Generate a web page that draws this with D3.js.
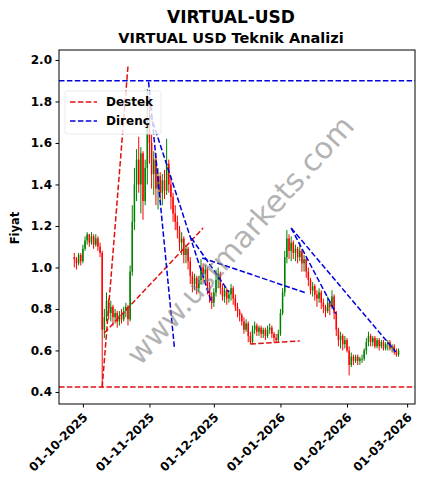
<!DOCTYPE html>
<html lang="en">
<head>
<meta charset="UTF-8">
<script src="https://d3js.org/d3.v7.min.js"></script>
<style>
    body { margin: 0; background: #fff; }
    text { font-family: "DejaVu Sans", sans-serif; font-weight: bold; }
    .axis path, .axis line { stroke: #000; }
</style>
</head>
<body>
<svg width="427" height="489"></svg>
<script>
    // daily candles, first day 27-09-2025, open = previous close
    var firstDay = "2025-09-27";
    var firstOpen = 1.05;
    var closes = [
        1.04, 1.02, 1.06, 1.03, 1.09, 1.13, 1.16, 1.12, 1.15, 1.11,
        1.14, 1.10, 1.07, 0.70, 0.76, 0.84, 0.78, 0.81, 0.76, 0.78,
        0.74, 0.77, 0.75, 0.79, 0.81, 0.75, 0.98, 1.22, 1.40, 1.52,
        1.40, 1.55, 1.32, 1.48, 1.72, 1.60, 1.45, 1.52, 1.38, 1.44,
        1.36, 1.42, 1.37, 1.50, 1.40, 1.34, 1.26, 1.22, 1.18, 1.12,
        1.14, 1.06, 1.09, 1.03, 0.96, 0.92, 0.95, 0.90, 0.94, 1.00,
        0.97, 0.99, 0.91, 0.86, 0.83, 0.88, 0.94, 0.97, 0.90, 0.86,
        0.89, 0.85, 0.87, 0.90, 0.85, 0.81, 0.79, 0.77, 0.74, 0.70,
        0.73, 0.67, 0.64, 0.70, 0.72, 0.69, 0.71, 0.68, 0.70, 0.67,
        0.70, 0.71, 0.68, 0.66, 0.65, 0.68, 0.78, 0.88, 1.05, 1.14,
        1.08, 1.12, 1.07, 1.09, 1.05, 1.08, 1.02, 1.04, 0.98, 0.94,
        0.89, 0.91, 0.87, 0.85, 0.88, 0.83, 0.81, 0.79, 0.83, 0.81,
        0.86, 0.78, 0.70, 0.65, 0.67, 0.63, 0.65, 0.60, 0.53, 0.57,
        0.55, 0.57, 0.55, 0.56, 0.56, 0.60, 0.64, 0.67, 0.64, 0.66,
        0.62, 0.65, 0.62, 0.64, 0.61, 0.63, 0.64, 0.61, 0.62, 0.59,
        0.58, 0.60
    ];
    var highs = [
        1.07, 1.05, 1.07, 1.07, 1.11, 1.15, 1.17, 1.16, 1.17, 1.16,
        1.16, 1.15, 1.12, 1.08, 0.80, 0.88, 0.85, 0.84, 0.82, 0.80,
        0.79, 0.79, 0.80, 0.81, 0.83, 0.82, 1.01, 1.30, 1.48, 1.57,
        1.63, 1.58, 1.56, 1.52, 1.86, 1.82, 1.64, 1.56, 1.55, 1.48,
        1.46, 1.45, 1.47, 1.62, 1.52, 1.44, 1.36, 1.30, 1.25, 1.20,
        1.17, 1.15, 1.11, 1.10, 1.05, 0.98, 0.97, 0.96, 0.96, 1.04,
        1.02, 1.01, 1.00, 0.93, 0.88, 0.90, 0.99, 1.00, 0.98, 0.92,
        0.91, 0.90, 0.89, 0.92, 0.91, 0.87, 0.83, 0.80, 0.78, 0.76,
        0.75, 0.74, 0.69, 0.72, 0.74, 0.73, 0.72, 0.72, 0.71, 0.71,
        0.72, 0.73, 0.72, 0.69, 0.68, 0.70, 0.80, 0.90, 1.08, 1.18,
        1.16, 1.15, 1.13, 1.11, 1.10, 1.12, 1.09, 1.06, 1.05, 1.00,
        0.95, 0.93, 0.92, 0.89, 0.90, 0.89, 0.85, 0.82, 0.86, 0.84,
        0.89, 0.87, 0.79, 0.71, 0.69, 0.68, 0.67, 0.66, 0.62, 0.59,
        0.58, 0.58, 0.58, 0.57, 0.58, 0.61, 0.66, 0.69, 0.68, 0.67,
        0.67, 0.66, 0.66, 0.65, 0.65, 0.64, 0.65, 0.65, 0.63, 0.63,
        0.61, 0.61
    ];
    var lows = [
        1.00, 0.99, 1.01, 1.01, 1.02, 1.08, 1.11, 1.10, 1.11, 1.09,
        1.10, 1.08, 1.05, 0.42, 0.66, 0.74, 0.75, 0.74, 0.72, 0.73,
        0.71, 0.72, 0.73, 0.74, 0.76, 0.72, 0.74, 0.96, 1.18, 1.32,
        1.36, 1.26, 1.23, 1.30, 1.40, 1.50, 1.38, 1.35, 1.30, 1.28,
        1.32, 1.30, 1.33, 1.35, 1.36, 1.28, 1.22, 1.18, 1.14, 1.08,
        1.06, 1.02, 1.02, 0.99, 0.92, 0.88, 0.89, 0.87, 0.88, 0.92,
        0.93, 0.92, 0.87, 0.83, 0.80, 0.81, 0.86, 0.90, 0.87, 0.84,
        0.83, 0.82, 0.83, 0.84, 0.82, 0.79, 0.76, 0.74, 0.72, 0.68,
        0.69, 0.64, 0.63, 0.63, 0.68, 0.67, 0.67, 0.66, 0.66, 0.65,
        0.66, 0.68, 0.66, 0.64, 0.64, 0.64, 0.67, 0.77, 0.86, 1.02,
        1.04, 1.03, 1.04, 1.03, 1.02, 1.03, 0.98, 0.98, 0.95, 0.91,
        0.87, 0.86, 0.84, 0.81, 0.83, 0.80, 0.78, 0.76, 0.78, 0.77,
        0.80, 0.75, 0.67, 0.62, 0.61, 0.60, 0.61, 0.59, 0.48, 0.52,
        0.53, 0.54, 0.53, 0.53, 0.54, 0.55, 0.58, 0.62, 0.62, 0.62,
        0.61, 0.61, 0.60, 0.61, 0.60, 0.60, 0.60, 0.60, 0.59, 0.58,
        0.57, 0.57
    ];

    var resistanceLevel = 1.90;
    var supportLevel = 0.424;

    // trend lines: [date, price] -> [date, price]
    var supportLines = [
        [["2025-10-10", 0.424], ["2025-10-22", 1.97]],
        [["2025-10-11", 0.684], ["2025-11-26", 1.19]],
        [["2025-12-18", 0.631], ["2026-01-10", 0.646]]
    ];
    var resistanceLines = [
        [["2025-10-31T14:00", 1.894], ["2025-11-12T14:00", 0.617]],
        [["2025-11-01T12:00", 1.735], ["2025-11-30", 0.829]],
        [["2025-11-20T12:00", 1.142], ["2025-12-08", 0.882]],
        [["2025-11-25T14:00", 1.046], ["2026-01-13", 0.877]],
        [["2026-01-06", 1.19], ["2026-02-23T18:00", 0.593]],
        [["2026-01-06", 1.19], ["2026-01-27", 0.776]]
    ];

    var yTicks = [0.4, 0.6, 0.8, 1.0, 1.2, 1.4, 1.6, 1.8, 2.0];
    var xTicks = ["2025-10-01", "2025-11-01", "2025-12-01", "2026-01-01", "2026-02-01", "2026-03-01"];
    var legendItems = ["Destek", "Direnç"];

    var parse = d3.isoParse;
    var day0 = parse(firstDay);
    var candles = closes.map(function(c, i) {
        return {
            date: d3.timeDay.offset(day0, i),
            open: i === 0 ? firstOpen : closes[i - 1],
            close: c, high: highs[i], low: lows[i]
        };
    });

    var svg = d3.select("svg");
    var plotL = 59, plotR = 415, plotT = 50, plotB = 404;

    var x = d3.scaleTime()
        .domain([parse("2025-09-19T21:00"), parse("2026-03-04T16:00")])
        .range([plotL, plotR]);
    var y = d3.scaleLinear().domain([0.342, 2.048]).range([plotB, plotT]);

    svg.append("defs").append("clipPath").attr("id", "plot")
        .append("rect").attr("x", plotL).attr("y", plotT)
        .attr("width", plotR - plotL).attr("height", plotB - plotT);

    var plot = svg.append("g").attr("clip-path", "url(#plot)");

    // horizontal levels
    plot.append("line")
        .attr("x1", plotL).attr("x2", plotR)
        .attr("y1", y(resistanceLevel)).attr("y2", y(resistanceLevel))
        .attr("stroke", "#0000dd").attr("stroke-width", 1.5).attr("stroke-dasharray", "5.5,2.4");
    plot.append("line")
        .attr("x1", plotL).attr("x2", plotR)
        .attr("y1", y(supportLevel)).attr("y2", y(supportLevel))
        .attr("stroke", "#e01010").attr("stroke-width", 1.5).attr("stroke-dasharray", "5.5,2.4");

    // candles
    var dayW = x(parse("2025-10-02")) - x(parse("2025-10-01"));
    var cg = plot.append("g").selectAll("g").data(candles).enter().append("g");
    cg.append("line")
        .attr("x1", function(d) { return x(d.date); })
        .attr("x2", function(d) { return x(d.date); })
        .attr("y1", function(d) { return y(d.high); })
        .attr("y2", function(d) { return y(d.low); })
        .attr("stroke", function(d) { return d.close >= d.open ? "green" : "red"; })
        .attr("stroke-width", 1);
    cg.append("rect")
        .attr("x", function(d) { return x(d.date) - dayW * 0.35; })
        .attr("width", dayW * 0.7)
        .attr("y", function(d) { return y(Math.max(d.open, d.close)); })
        .attr("height", function(d) { return Math.max(0.8, Math.abs(y(d.open) - y(d.close))); })
        .attr("fill", function(d) { return d.close >= d.open ? "green" : "red"; });

    // trend lines
    function drawLines(lines, color) {
        plot.append("g").selectAll("line").data(lines).enter().append("line")
            .attr("x1", function(d) { return x(parse(d[0][0])); })
            .attr("y1", function(d) { return y(d[0][1]); })
            .attr("x2", function(d) { return x(parse(d[1][0])); })
            .attr("y2", function(d) { return y(d[1][1]); })
            .attr("stroke", color).attr("stroke-width", 1.5)
            .attr("stroke-dasharray", "5.5,2.4");
    }
    drawLines(supportLines, "#e01010");
    drawLines(resistanceLines, "#0000dd");

    // watermark
    svg.append("text")
        .attr("transform", "translate(240,240) rotate(-48)")
        .attr("text-anchor", "middle").attr("dy", "0.35em")
        .style("font-weight", "normal").style("font-size", "30px")
        .attr("fill", "#808080").attr("fill-opacity", 0.6)
        .text("www.ustmarkets.com");

    // frame
    svg.append("rect").attr("x", plotL).attr("y", plotT)
        .attr("width", plotR - plotL).attr("height", plotB - plotT)
        .attr("fill", "none").attr("stroke", "#000").attr("stroke-width", 1);

    // axes
    var yAxis = svg.append("g").attr("class", "axis")
        .attr("transform", "translate(" + plotL + ",0)")
        .call(d3.axisLeft(y).tickValues(yTicks).tickFormat(d3.format(".1f")).tickSize(3.5).tickPadding(3.5));
    yAxis.select(".domain").remove();
    yAxis.selectAll("text").style("font-size", "12px").attr("fill", "#000");

    var xAxis = svg.append("g").attr("class", "axis")
        .attr("transform", "translate(0," + plotB + ")")
        .call(d3.axisBottom(x).tickValues(xTicks.map(parse)).tickFormat(d3.timeFormat("%d-%m-%Y")).tickSize(3.5));
    xAxis.select(".domain").remove();
    xAxis.selectAll("text")
        .style("font-size", "12px").attr("fill", "#000")
        .attr("text-anchor", "end")
        .attr("dy", null).attr("y", null)
        .attr("transform", "translate(5,14) rotate(-45)");

    // titles
    svg.append("text").attr("x", 231).attr("y", 23).attr("text-anchor", "middle")
        .style("font-size", "17px").text("VIRTUAL-USD");
    svg.append("text").attr("x", 231).attr("y", 43).attr("text-anchor", "middle")
        .style("font-size", "14.5px").text("VIRTUAL USD Teknik Analizi");
    svg.append("text").attr("transform", "translate(19,228) rotate(-90)")
        .attr("text-anchor", "middle").style("font-size", "11.5px").text("Fiyat");

    // legend
    var lg = svg.append("g");
    lg.append("rect").attr("x", 65).attr("y", 91).attr("width", 96).attr("height", 43)
        .attr("rx", 2).attr("fill", "#fff").attr("fill-opacity", 0.8)
        .attr("stroke", "#e4e4e4").attr("stroke-width", 0.8);
    legendItems.forEach(function(name, i) {
        var yy = 102 + i * 19;
        lg.append("line").attr("x1", 70).attr("x2", 97).attr("y1", yy).attr("y2", yy)
            .attr("stroke", i === 0 ? "#e01010" : "#0000dd").attr("stroke-width", 1.5)
            .attr("stroke-dasharray", "5.5,2.4");
        lg.append("text").attr("x", 106).attr("y", yy).attr("dy", "0.35em")
            .style("font-size", "12px").text(name);
    });
</script>
</body>
</html>
